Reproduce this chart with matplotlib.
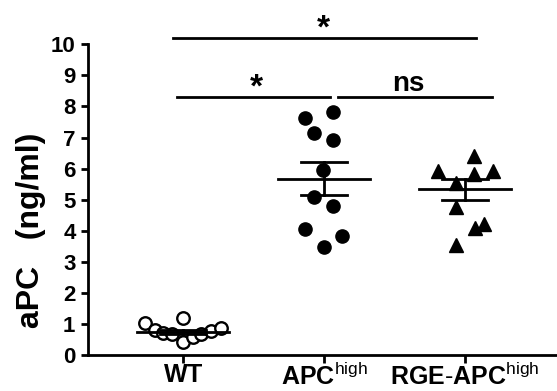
import matplotlib
matplotlib.use("Agg")
import matplotlib.pyplot as plt
import numpy as np

plt.rcParams['font.family'] = ['Liberation Sans', 'DejaVu Sans']
plt.rcParams['mathtext.fontset'] = 'custom'
plt.rcParams['mathtext.rm'] = 'Liberation Sans'
plt.rcParams['mathtext.bf'] = 'Liberation Sans:bold'

# ---- data ----
categories = ['WT', 'APC', 'RGE-APC']
tick_labels = [r'$\mathbf{WT}$', r'$\mathbf{APC}^{\mathrm{high}}$', r'$\mathbf{RGE\text{-}APC}^{\mathrm{high}}$']
wt_values = [1.02, 0.80, 0.72, 0.66, 0.43, 1.19, 0.59, 0.67, 0.78, 0.86]
apc_values = [7.82, 7.64, 7.16, 6.91, 5.95, 5.07, 4.80, 4.07, 3.84, 3.48]
rge_values = [6.40, 5.93, 5.93, 5.82, 5.52, 4.77, 4.21, 4.10, 3.54]
group_means = [0.75, 5.67, 5.33]
group_sems = [0.06, 0.53, 0.35]
y_ticks = [0, 1, 2, 3, 4, 5, 6, 7, 8, 9, 10]
sig_labels = ['*', '*', 'ns']

# ---- layout (horizontal scatter offsets, in category units) ----
wt_offsets = [-0.27, -0.20, -0.14, -0.075, 0.0, 0.0, 0.07, 0.13, 0.20, 0.27]
apc_offsets = [0.065, -0.135, -0.07, 0.065, -0.005, -0.07, 0.065, -0.135, 0.13, 0.0]
rge_offsets = [0.065, -0.195, 0.2, 0.065, -0.065, -0.065, 0.135, 0.07, -0.065]

W, H = 557, 391
fig = plt.figure(figsize=(W / 100, H / 100), dpi=100)
ax = fig.add_axes([88 / W, (H - 355) / H, 1 - 88 / W, 355 / H])
ax.set_xlim(-0.674, 2.652)
ax.set_ylim(0, 355 / 31.07)

xs = np.arange(len(categories))
ax.plot(xs[0] + np.array(wt_offsets), wt_values, 'o', ms=9, mfc='white', mec='black',
        mew=1.7, clip_on=False, zorder=3)
ax.plot(xs[1] + np.array(apc_offsets), apc_values, 'o', ms=9.5, color='black', clip_on=False, zorder=3)
ax.plot(xs[2] + np.array(rge_offsets), rge_values, '^', ms=10, color='black', clip_on=False, zorder=3)

for x, m, s in zip(xs, group_means, group_sems):
    ax.plot([x - 0.325, x + 0.325], [m, m], color='black', lw=2, zorder=4)
    ax.plot([x, x], [m - s, m + s], color='black', lw=2, zorder=4)
    for v in (m - s, m + s):
        ax.plot([x - 0.165, x + 0.165], [v, v], color='black', lw=2, zorder=4)

# significance lines
ax.plot([-0.073, 2.078], [10.2, 10.2], color='black', lw=2, clip_on=False)
ax.plot([-0.045, 1.043], [8.31, 8.31], color='black', lw=2, clip_on=False)
ax.plot([1.10, 2.19], [8.31, 8.31], color='black', lw=2, clip_on=False)
ax.text(0.993, 10.0, sig_labels[0], ha='center', va='bottom', fontsize=24, fontweight='bold')
ax.text(0.52, 8.1, sig_labels[1], ha='center', va='bottom', fontsize=24, fontweight='bold')
ax.text(1.6, 8.5, sig_labels[2], ha='center', va='baseline', fontsize=20, fontweight='bold')

for sp in ('top', 'right'):
    ax.spines[sp].set_visible(False)
ax.spines['left'].set_bounds(0, 10)
ax.spines['left'].set_linewidth(2)
ax.spines['bottom'].set_linewidth(2)

ax.set_yticks(y_ticks)
ax.set_yticklabels([str(t) for t in y_ticks], fontsize=16, fontweight='bold')
ax.set_xticks(xs)
ax.set_xticklabels(tick_labels, fontsize=18)
ax.tick_params(axis='y', length=5, width=2, pad=4)
ax.tick_params(axis='x', length=5.5, width=2, pad=0.5)

fig.text(31 / W, 1 - 230 / H, 'aPC   (ng/ml)', rotation=90, ha='center', va='center',
         fontsize=23, fontweight='bold')

fig.savefig('out.png', dpi=100)
